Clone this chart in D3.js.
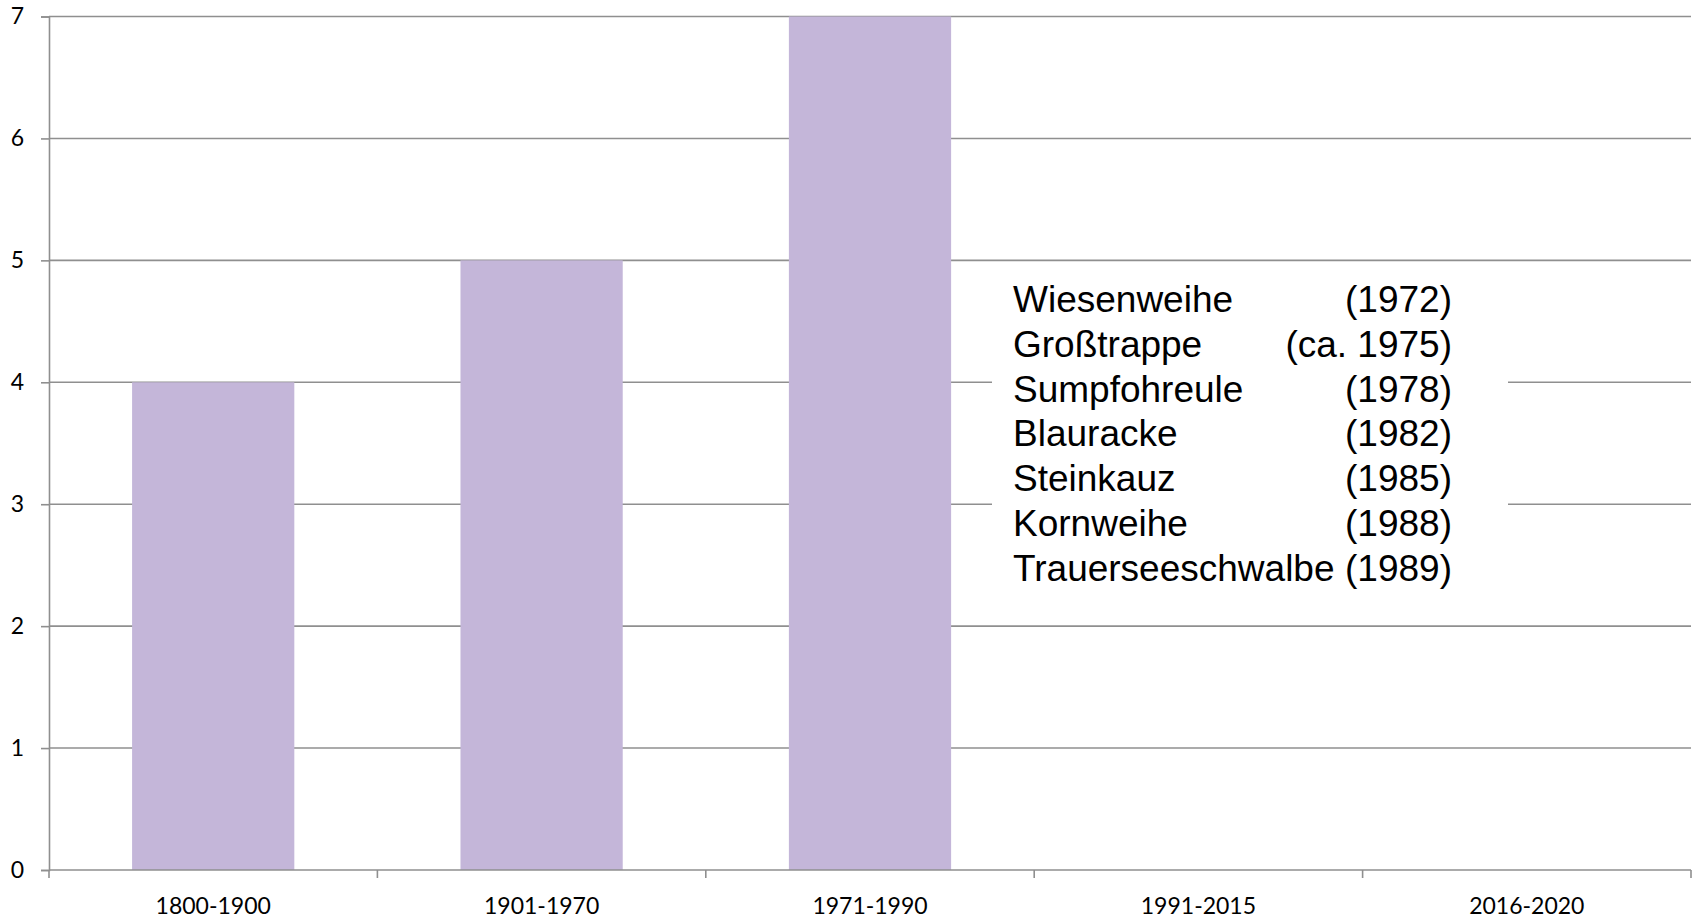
<!DOCTYPE html>
<html>
<head>
<meta charset="utf-8">
<script src="https://cdn.jsdelivr.net/npm/d3@7"></script>
<style>
  body { margin: 0; background: #fff; }
  svg { display: block; }
  .tick text { font-family: Lato, "Open Sans", sans-serif; font-size: 23px; fill: #000; }
  .legend text { font-family: "Liberation Sans", Arial, sans-serif; font-size: 37px; fill: #000; }
</style>
</head>
<body>
<div id="chart"></div>
<script>
var categories = ["1800-1900", "1901-1970", "1971-1990", "1991-2015", "2016-2020"];
var counts = [4, 5, 7, 0, 0];
var yTicks = [0, 1, 2, 3, 4, 5, 6, 7];
var speciesNames = ["Wiesenweihe", "Großtrappe", "Sumpfohreule", "Blauracke", "Steinkauz", "Kornweihe", "Trauerseeschwalbe"];
var speciesYears = ["(1972)", "(ca. 1975)", "(1978)", "(1982)", "(1985)", "(1988)", "(1989)"];

var width = 1696, height = 918;
var margin = {top: 16.5, right: 5, bottom: 48, left: 49};
var innerW = width - margin.left - margin.right;
var innerH = height - margin.top - margin.bottom;

var svg = d3.select("#chart").append("svg")
    .attr("width", width)
    .attr("height", height);

var g = svg.append("g")
    .attr("transform", "translate(" + margin.left + "," + margin.top + ")");

var x = d3.scaleBand().domain(categories).range([0, innerW]).paddingInner(0).paddingOuter(0);
var y = d3.scaleLinear().domain([0, 7]).range([innerH, 0]);

var gridColor = "#8f8f8f";

// gridlines
g.selectAll("line.grid").data(yTicks.filter(function(d) { return d > 0; }))
    .enter().append("line")
    .attr("class", "grid")
    .attr("x1", 0).attr("x2", innerW)
    .attr("y1", function(d) { return y(d); })
    .attr("y2", function(d) { return y(d); })
    .attr("stroke", gridColor)
    .attr("stroke-width", 1.6);

// bars
var barW = x.bandwidth() * 0.494;
g.selectAll("rect.bar").data(counts)
    .enter().append("rect")
    .attr("class", "bar")
    .attr("x", function(d, i) { return x(categories[i]) + (x.bandwidth() - barW) / 2; })
    .attr("y", function(d) { return y(d); })
    .attr("width", barW)
    .attr("height", function(d) { return innerH - y(d); })
    .attr("fill", "#c4b6d9");

// white text box over the grid
var legendX = 1013 - margin.left, legendTop = 312 - margin.top, lineH = 44.8;
g.append("rect")
    .attr("x", 992 - margin.left)
    .attr("y", 272 - margin.top)
    .attr("width", 1508 - 992)
    .attr("height", 330)
    .attr("fill", "#fff");

// y axis
var yAxis = g.append("g")
    .call(d3.axisLeft(y).tickValues(yTicks).tickSize(8).tickPadding(17).tickFormat(d3.format("d")));
yAxis.select(".domain").attr("stroke", gridColor).attr("stroke-width", 1.6);
yAxis.selectAll(".tick line").attr("stroke", gridColor).attr("stroke-width", 1.6);

// x axis with ticks at band edges
var xAxis = g.append("g")
    .attr("transform", "translate(0," + innerH + ")")
    .call(d3.axisBottom(x).tickSize(0).tickPadding(28));
xAxis.select(".domain").remove();
xAxis.append("line")
    .attr("x1", 0).attr("x2", innerW)
    .attr("stroke", gridColor).attr("stroke-width", 1.6);
var edges = categories.map(function(c) { return x(c); }).concat([innerW]);
xAxis.selectAll("line.edge").data(edges)
    .enter().append("line")
    .attr("class", "edge")
    .attr("x1", function(d) { return d; }).attr("x2", function(d) { return d; })
    .attr("y1", 0).attr("y2", 8)
    .attr("stroke", gridColor).attr("stroke-width", 1.6);
xAxis.selectAll(".tick text").attr("dy", "0.71em");

// species list
var legend = g.append("g").attr("class", "legend");
legend.selectAll("text.name").data(speciesNames)
    .enter().append("text")
    .attr("class", "name")
    .attr("x", legendX)
    .attr("y", function(d, i) { return legendTop + i * lineH; })
    .text(function(d) { return d; });
legend.selectAll("text.year").data(speciesYears)
    .enter().append("text")
    .attr("class", "year")
    .attr("x", 1452 - margin.left)
    .attr("y", function(d, i) { return legendTop + i * lineH; })
    .attr("text-anchor", "end")
    .text(function(d) { return d; });
</script>
</body>
</html>
